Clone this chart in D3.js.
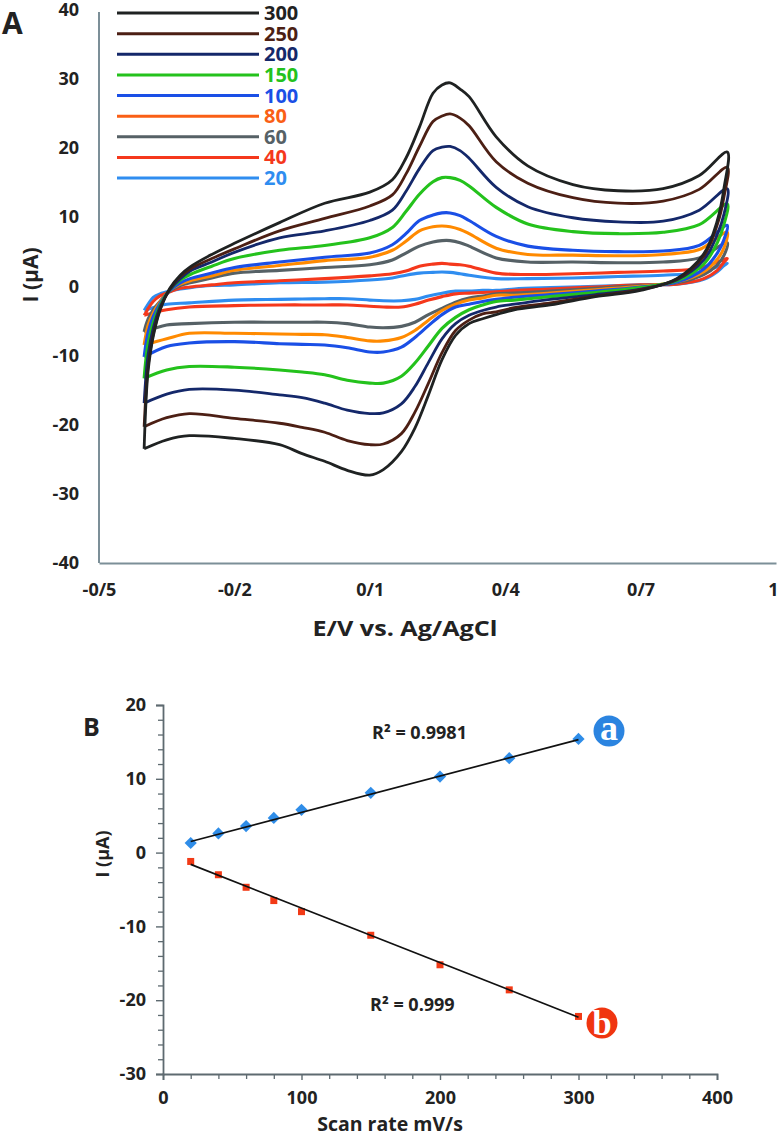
<!DOCTYPE html>
<html><head><meta charset="utf-8">
<script src="https://cdn.jsdelivr.net/npm/d3@7"></script>
<style>
html,body{margin:0;padding:0;background:#fff}
svg{display:block}
text{font-family:"Open Sans",sans-serif;font-weight:700;fill:#222}
</style></head><body>
<div id="chart"></div>
<script>
// Panel A: potential grids (forward and reverse sweep)
const forwardE=[-0.40,-0.396,-0.391,-0.38,-0.365,-0.343,-0.32,-0.298,-0.25,-0.2,-0.1,0,0.1,0.15,0.18,0.21,0.24,0.26,0.278,0.30,0.32,0.38,0.45,0.55,0.65,0.75,0.83,0.892];
const reverseE=[0.892,0.885,0.87,0.84,0.78,0.7,0.6,0.5,0.42,0.38,0.35,0.32,0.29,0.26,0.23,0.2,0.17,0.13,0.1,0.05,0,-0.05,-0.1,-0.2,-0.3,-0.35,-0.4];
// Panel A: currents by scan rate
const fwd20=[-3.5,-3.1,-2.6,-1.6,-1.1,-0.7,-0.4,-0.2,0.1,0.2,0.5,0.6,0.9,1.2,1.6,1.9,2,2.05,2,1.8,1.6,1.1,1.1,1.2,1.4,1.6,2,3.3];
const rev20=[3.3,3,2.1,1,0.3,0.2,0,-0.2,-0.4,-0.6,-0.6,-0.7,-0.7,-1,-1.4,-1.9,-2.1,-2.1,-2,-1.8,-1.8,-1.85,-1.9,-2,-2.4,-2.6,-3.5];
const fwd40=[-4.2,-3.8,-3.2,-2.2,-1.4,-0.8,-0.3,-0.1,0.2,0.5,0.8,1.1,1.5,1.8,2.2,2.9,3.2,3.3,3.2,3.1,2.9,1.9,1.7,1.8,2,2.2,2.6,4];
const rev40=[4,3.5,2.3,1.1,0.3,0.2,-0.1,-0.4,-0.6,-0.8,-0.9,-1,-1.1,-1.5,-2,-2.6,-3,-3,-2.9,-2.7,-2.7,-2.7,-2.7,-2.8,-3,-3.4,-4.2];
const fwd60=[-6.6,-5.6,-4.7,-3.4,-2.2,-0.7,0.1,0.5,1.2,1.9,2.3,2.7,3.1,3.8,4.8,5.8,6.4,6.6,6.6,6.3,5.8,4.1,3.5,3.5,3.4,3.5,4.1,6.3];
const rev60=[6.3,4.5,3.1,1.7,0.5,0.1,-0.3,-0.7,-1,-1.1,-1.4,-1.7,-2.3,-3.2,-4.1,-5.2,-5.8,-6,-5.9,-5.4,-5.2,-5.2,-5.2,-5.2,-5.4,-5.6,-6.6];
const fwd80=[-8.5,-7,-5.6,-3.9,-2.3,-0.6,0.3,0.8,1.5,2.3,3,3.7,4.2,5.2,6.5,8,8.6,8.7,8.6,8.2,7.6,5.5,4.6,4.5,4.4,4.6,5.3,7.8];
const rev80=[7.8,5.6,3.9,2.1,0.6,0,-0.5,-1,-1.3,-1.3,-1.7,-2,-2.6,-3.5,-4.9,-6.4,-7.4,-7.9,-7.9,-7.4,-7,-6.95,-6.9,-6.8,-6.8,-7.6,-8.5];
const fwd100=[-10.2,-8.3,-6.6,-4.4,-2.5,-0.6,0.5,1.1,1.9,2.7,3.5,4.2,4.8,6,7.6,9.5,10.3,10.6,10.6,10.2,9.5,7.2,5.8,5.2,5,5.1,5.9,8.8];
const rev100=[8.8,6.8,4.8,2.5,0.6,-0.1,-0.7,-1.2,-1.6,-1.9,-2.2,-2.6,-3,-4.1,-5.7,-7.4,-8.8,-9.5,-9.5,-8.9,-8.5,-8.4,-8.3,-8,-8.2,-8.7,-10.2];
const fwd150=[-13.3,-10.5,-8.2,-5.3,-2.8,-0.5,0.9,1.7,2.9,4,5.2,5.9,7,8.5,10.8,13.3,15.1,15.7,15.7,15.3,14.5,11.4,9,7.9,7.6,7.8,8.9,11.9];
const rev150=[11.9,9,6.3,3.2,0.8,-0.2,-0.9,-1.5,-2,-2.2,-2.7,-3.4,-4.5,-6.1,-8.6,-11.1,-13,-14,-14,-13.6,-12.8,-12.4,-12.1,-11.7,-11.6,-12.1,-13.3];
const fwd200=[-16.9,-13,-9.8,-6.1,-3,-0.5,1.1,2.2,3.5,4.9,7,8,9.5,11,13.7,17,19.6,20.1,20.2,19.6,18.5,14.3,11.5,9.9,9.3,9.4,11,14.1];
const rev200=[14.1,10.5,7.5,3.8,0.9,-0.4,-1.2,-1.9,-2.6,-3,-3.5,-4.2,-5.4,-7.6,-11,-14.5,-17,-18.3,-18.4,-17.9,-16.9,-16.1,-15.7,-15,-14.9,-15.6,-16.9];
const fwd250=[-20.3,-15.5,-11.5,-7,-3.4,-0.4,1.4,2.5,4,5.4,8,9.8,11.6,13.2,16.2,20.2,23.8,24.6,24.9,24.3,23.2,18,14.9,12.8,12,12.3,14,17.2];
const rev250=[17.2,13,8.9,4.4,1,-0.5,-1.4,-2.4,-3.1,-3.7,-4,-4.9,-6.4,-9.6,-14,-18.2,-21.3,-22.8,-22.9,-22.3,-21.1,-20.4,-19.8,-19.1,-18.4,-19,-20.3];
const fwd300=[-23.5,-16.9,-12.1,-7.3,-3.5,-0.3,1.6,2.8,4.6,6.2,9.2,12,13.6,15.4,18.5,23,27.9,29.1,29.4,28.5,27.4,21.6,17.4,14.7,13.8,14.1,16,19.4];
const rev300=[19.4,14.3,9.5,4.7,1.1,-0.6,-1.5,-2.7,-3.4,-4.1,-4.7,-5.4,-7.1,-10.6,-15.7,-20.5,-23.9,-26.5,-27.3,-26.6,-25.3,-24.2,-22.9,-22,-21.6,-22.2,-23.5];
const rates=[20,40,60,80,100,150,200,250,300];
const forwards=[fwd20,fwd40,fwd60,fwd80,fwd100,fwd150,fwd200,fwd250,fwd300];
const reverses=[rev20,rev40,rev60,rev80,rev100,rev150,rev200,rev250,rev300];
const lineColors=["#2f8df0","#f5381c","#566166","#ff8a00","#1a4fe6","#24c21c","#14286a","#4c1f14","#1f2222"];
const legendLineColors=["#2f8df0","#f5381c","#566166","#fa5f16","#1a4fe6","#24c21c","#14286a","#4c1f14","#1f2222"];
const xTicksA=[-0.5,-0.2,0.1,0.4,0.7,1];
const xTickLabelsA=["-0/5","-0/2","0/1","0/4","0/7","1"];
const yTicksA=[-40,-30,-20,-10,0,10,20,30,40];
// Panel B
const scanRate=[20,40,60,80,100,150,200,250,300];
const peakA=[1.3,2.6,3.6,4.7,5.8,8.1,10.3,12.8,15.4];
const peakB=[-1.2,-3,-4.7,-6.5,-8,-11.2,-15.2,-18.6,-22.2];
const trendRate=[20,300];
const trendA=[1.5,15.3];
const trendB=[-1.6,-22.3];
const xTicksB=[0,100,200,300,400];
const xMinorB=[20,40,60,80,120,140,160,180,220,240,260,280,320,340,360,380];
const yTicksB=[-30,-20,-10,0,10,20];
const yMinorB=[-28,-26,-24,-22,-18,-16,-14,-12,-8,-6,-4,-2,2,4,6,8,12,14,16,18];

const svg=d3.select("#chart").append("svg").attr("width",779).attr("height",1135);
const axisColor="#7c8f98";
const plain=d=>String(d);

// ---- Panel A ----
const xA=d3.scaleLinear().domain([-0.5,1]).range([99,776]);
const yA=d3.scaleLinear().domain([-40,40]).range([563,9.5]);
const gA=svg.append("g");
const line=d3.line().x(d=>xA(d[0])).y(d=>yA(d[1])).curve(d3.curveCatmullRom.alpha(0.5));
rates.forEach((r,i)=>{
  const pts=forwardE.map((e,j)=>[e,forwards[i][j]]).concat(reverseE.slice(1).map((e,j)=>[e,reverses[i][j+1]]));
  gA.append("path").attr("d",line(pts)).attr("fill","none")
    .attr("stroke",lineColors[i]).attr("stroke-width",i>5?2.8:3.1).attr("stroke-linejoin","round");
});
const axAy=gA.append("g").attr("transform","translate(99,0)")
  .call(d3.axisLeft(yA).tickValues(yTicksA).tickSize(0).tickPadding(20).tickFormat(plain));
axAy.select(".domain").attr("d","M0,12V563").attr("stroke",axisColor).attr("stroke-width",2);
axAy.selectAll("text").attr("font-size",18).style("fill","#222");
const axAx=gA.append("g").attr("transform","translate(0,563)")
  .call(d3.axisBottom(xA).tickValues(xTicksA).tickSize(0).tickPadding(20).tickFormat((d,i)=>xTickLabelsA[i]));
axAx.select(".domain").attr("stroke",axisColor).attr("stroke-width",2);
axAx.selectAll("text").attr("font-size",18).style("fill","#222");
axAx.selectAll(".tick").filter(d=>d===1).select("text").attr("dx",-3);
gA.append("text").attr("x",405).attr("y",636).attr("text-anchor","middle").attr("font-size",22)
  .attr("textLength",185).attr("lengthAdjust","spacingAndGlyphs").text("E/V vs. Ag/AgCl");
gA.append("text").attr("transform","translate(38,275) rotate(-90)").attr("text-anchor","middle").attr("font-size",21).text("I (µA)");
gA.append("text").attr("x",2).attr("y",34).attr("font-size",30).text("A");

// Legend
const legendOrder=d3.range(rates.length).reverse();
const legendY=d3.scalePoint().domain(legendOrder).range([13,178]);
legendOrder.forEach(i=>{
  gA.append("line").attr("x1",117).attr("x2",259).attr("y1",legendY(i)).attr("y2",legendY(i))
    .attr("stroke",legendLineColors[i]).attr("stroke-width",3);
  gA.append("text").attr("x",264).attr("y",legendY(i)+7).attr("font-size",20)
    .style("fill",legendLineColors[i]).text(rates[i]);
});

// ---- Panel B ----
const xB=d3.scaleLinear().domain([0,400]).range([163,717]);
const yB=d3.scaleLinear().domain([-30,20]).range([1074,705]);
const gB=svg.append("g");
const axBxMinor=gB.append("g").attr("transform","translate(0,1074)")
  .call(d3.axisBottom(xB).tickValues(xMinorB).tickSize(5).tickFormat(""));
const axByMinor=gB.append("g").attr("transform","translate(163,0)")
  .call(d3.axisLeft(yB).tickValues(yMinorB).tickSize(5).tickFormat(""));
[axBxMinor,axByMinor].forEach(a=>{a.select(".domain").remove();a.selectAll("line").attr("stroke","#5e6a70").attr("stroke-width",1.3);});
const axBx=gB.append("g").attr("transform","translate(0,1074)")
  .call(d3.axisBottom(xB).tickValues(xTicksB).tickSize(6).tickPadding(11).tickFormat(plain));
const axBy=gB.append("g").attr("transform","translate(163,0)")
  .call(d3.axisLeft(yB).tickValues(yTicksB).tickSize(7).tickPadding(10).tickFormat(plain));
[axBx,axBy].forEach(a=>{
  a.select(".domain").attr("stroke","#5e6a70").attr("stroke-width",1.8);
  a.selectAll("line").attr("stroke","#5e6a70").attr("stroke-width",1.4);
  a.selectAll("text").attr("font-size",18).style("fill","#222");
});
const trendLine=d3.line().x(d=>xB(d[0])).y(d=>yB(d[1]));
const diamond=d3.symbol().type(d3.symbolDiamond2).size(95);
gB.selectAll(".mk-a").data(scanRate).join("path").attr("class","mk-a").attr("d",diamond)
  .attr("transform",(d,i)=>`translate(${xB(d)},${yB(peakA[i])})`).attr("fill","#2f8de8");
gB.selectAll(".mk-b").data(scanRate).join("rect").attr("class","mk-b")
  .attr("x",d=>xB(d)-3.5).attr("y",(d,i)=>yB(peakB[i])-3.5).attr("width",7).attr("height",7).attr("fill","#f23a16");
[trendA,trendB].forEach(t=>{
  gB.append("path").attr("d",trendLine(trendRate.map((r,i)=>[r,t[i]]))).attr("fill","none").attr("stroke","#111").attr("stroke-width",1.7);
});
gB.append("text").attr("x",372).attr("y",739).attr("font-size",18).text("R² = 0.9981");
gB.append("text").attr("x",370).attr("y",1011).attr("font-size",18).text("R² = 0.999");
gB.append("text").attr("x",390).attr("y",1131).attr("text-anchor","middle").attr("font-size",19.5).text("Scan rate mV/s");
gB.append("text").attr("transform","translate(109,854) rotate(-90)").attr("text-anchor","middle").attr("font-size",18).text("I (µA)");
gB.append("text").attr("x",83).attr("y",736).attr("font-size",25).text("B");
gB.append("circle").attr("cx",609).attr("cy",731).attr("r",15.5).attr("fill","#2b84e0");
gB.append("text").attr("x",609).attr("y",740).attr("text-anchor","middle").attr("font-size",36).style("font-family","'Liberation Serif',serif").style("fill","#fff").text("a");
gB.append("circle").attr("cx",602).attr("cy",1023).attr("r",15.5).attr("fill","#f03510");
gB.append("text").attr("x",602).attr("y",1035).attr("text-anchor","middle").attr("font-size",35).style("font-family","'Liberation Serif',serif").style("fill","#fff").text("b");
</script>
</body></html>
